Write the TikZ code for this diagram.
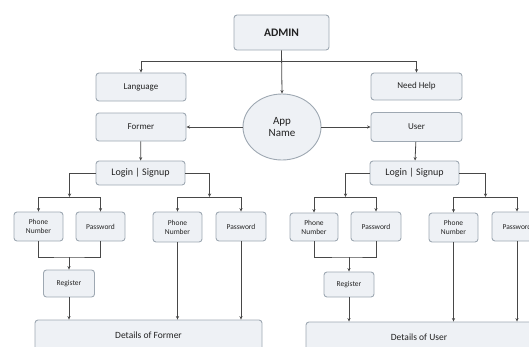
\documentclass[tikz,border=0pt]{standalone}
\usepackage{fontspec}
\setmainfont{Carlito}
\usetikzlibrary{arrows.meta,shapes.geometric}
\definecolor{boxfill}{RGB}{238,241,245}
\definecolor{boxline}{RGB}{158,168,178}
\definecolor{wire}{RGB}{72,72,72}
\definecolor{ink}{RGB}{35,35,35}
\begin{document}
\begin{tikzpicture}[x=1pt,y=-1pt,
    box/.style={draw=boxline,fill=boxfill,rounded corners=3pt,line width=0.9pt,
      text=ink,align=center,inner sep=1pt,font=\fontsize{9}{10}\selectfont},
    small/.style={box,font=\fontsize{7.5}{9}\selectfont},
    arr/.style={draw=wire,line width=0.8pt,-{Stealth[length=3.5pt,width=3.2pt]}},
    wire/.style={draw=wire,line width=0.8pt}]
  \useasboundingbox (0,0) rectangle (529,346);
  \draw
    (281.5,32.5) node[box,minimum width=95pt,minimum height=35pt,font=\bfseries\fontsize{11.5}{13}\selectfont] (admin){ADMIN}
    (141,87) node[box,minimum width=90pt,minimum height=28pt] (lang){Language}
    (416.5,86.5) node[box,minimum width=91pt,minimum height=27pt] (help){Need Help}
    (282,127) node[ellipse,draw=boxline,fill=boxfill,line width=0.9pt,text=ink,align=center,
      minimum width=78pt,minimum height=66pt,inner sep=0pt,font=\fontsize{11}{12}\selectfont] (app){App\\Name}
    (141,127) node[box,minimum width=90pt,minimum height=28pt] (former){Former}
    (416.5,127) node[box,minimum width=91pt,minimum height=29pt] (user){User}
    (140.5,173) node[box,minimum width=89pt,minimum height=24pt,font=\fontsize{10}{12}\selectfont] (loginF){Login | Signup}
    (414.5,173) node[box,minimum width=89pt,minimum height=24pt,font=\fontsize{10}{12}\selectfont] (loginU){Login | Signup}
    (38.5,226.5) node[small,minimum width=49pt,minimum height=29pt] (pnF1){Phone\\Number}
    (100.5,226.5) node[small,minimum width=49pt,minimum height=29pt] (pwF1){Password}
    (177.5,227) node[small,minimum width=49pt,minimum height=30pt] (pnF2){Phone\\Number}
    (241,226.5) node[small,minimum width=50pt,minimum height=29pt] (pwF2){Password}
    (69,283.5) node[small,minimum width=51pt,minimum height=27pt] (regF){Register}
    (148.5,335) node[box,minimum width=227pt,minimum height=30pt,font=\fontsize{9.5}{11}\selectfont] (detF){Details of Former}
    (314,227) node[small,minimum width=48pt,minimum height=28pt] (pnU1){Phone\\Number}
    (376,226.5) node[small,minimum width=50pt,minimum height=29pt] (pwU1){Password}
    (349,284.5) node[small,minimum width=50pt,minimum height=25pt] (regU){Register}
    (453.5,227.5) node[small,minimum width=49pt,minimum height=29pt] (pnU2){Phone\\Number}
    (517,226.5) node[small,minimum width=50pt,minimum height=29pt] (pwU2){Password}
    (419,337) node[box,minimum width=226pt,minimum height=30pt,font=\fontsize{9.5}{11}\selectfont] (detU){Details of User};
  \coordinate (hub) at (282,61);
  \coordinate (splitF1) at (69.5,197);
  \coordinate (splitF2) at (209.5,197);
  \coordinate (splitU1) at (345.5,197);
  \coordinate (splitU2) at (485.5,197);
  \coordinate (joinF) at (69,257);
  \coordinate (joinU) at (349,257);
  \begin{scope}[arr]
    \draw (admin.south) -- (app.north);
    \draw (hub) -| (lang.north);
    \draw (hub) -| (help.north);
    \draw (app.west) -- (former.east);
    \draw (app.east) -- (user.west);
    \draw (former) -- (loginF);
    \draw (user) -- (loginU);
    \draw (loginF.west) -| (splitF1);
    \draw (loginF.east) -| (splitF2);
    \draw (loginU.west) -| (splitU1);
    \draw (loginU.east) -| (splitU2);
    \draw (splitF1) -| (pnF1.north);
    \draw (splitF1) -| (pwF1.north);
    \draw (splitF2) -| (pnF2.north);
    \draw (splitF2) -| (pwF2.north);
    \draw (splitU1) -| (pnU1.north);
    \draw (splitU1) -| (pwU1.north);
    \draw (splitU2) -| (pnU2.north);
    \draw (splitU2) -| (pwU2.north);
    \draw (joinF) -- (regF.north);
    \draw (joinU) -- (regU.north);
    \draw (regF.south) -- (regF.south |- detF.north);
    \draw (pnF2.south) -- (pnF2.south |- detF.north);
    \draw (pwF2.south) -- (pwF2.south |- detF.north);
    \draw (regU.south) -- (regU.south |- detU.north);
    \draw (pnU2.south) -- (pnU2.south |- detU.north);
    \draw (pwU2.south) -- (pwU2.south |- detU.north);
  \end{scope}
  \begin{scope}[wire]
    \draw (pnF1.south) |- (joinF) -| (pwF1.south);
    \draw (pnU1.south) |- (joinU) -| (pwU1.south);
  \end{scope}
\end{tikzpicture}
\end{document}
